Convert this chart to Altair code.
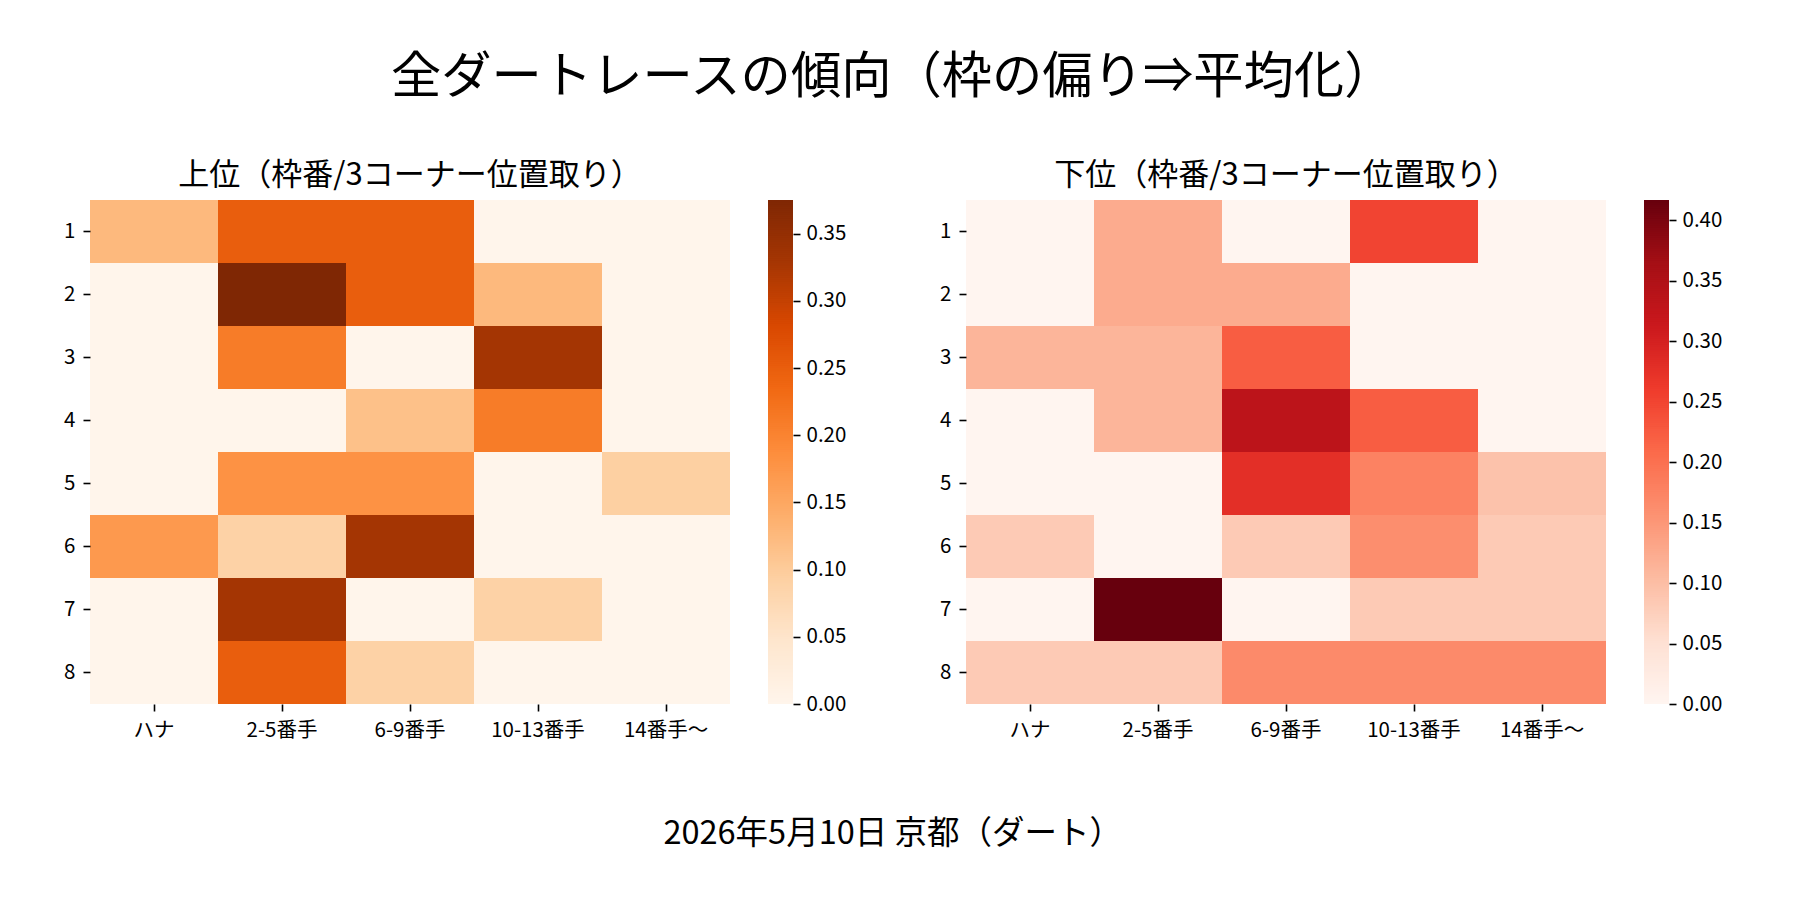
import altair as alt
import pandas as pd

FONT = "Noto Sans CJK JP"

rows = ["1", "2", "3", "4", "5", "6", "7", "8"]
cols = ["ハナ", "2-5番手", "6-9番手", "10-13番手", "14番手〜"]

upper = [
    [0.125, 0.25, 0.25, 0.0, 0.0],
    [0.0, 0.375, 0.25, 0.125, 0.0],
    [0.0, 0.21, 0.0, 0.33, 0.0],
    [0.0, 0.0, 0.115, 0.21, 0.0],
    [0.0, 0.18, 0.18, 0.0, 0.094],
    [0.17, 0.09, 0.33, 0.0, 0.0],
    [0.0, 0.33, 0.0, 0.09, 0.0],
    [0.0, 0.25, 0.09, 0.0, 0.0],
]
lower = [
    [0.0, 0.125, 0.0, 0.25, 0.0],
    [0.0, 0.125, 0.125, 0.0, 0.0],
    [0.112, 0.112, 0.223, 0.0, 0.0],
    [0.0, 0.112, 0.333, 0.223, 0.0],
    [0.0, 0.0, 0.278, 0.177, 0.094],
    [0.083, 0.0, 0.083, 0.161, 0.083],
    [0.0, 0.4167, 0.0, 0.083, 0.083],
    [0.083, 0.083, 0.167, 0.167, 0.167],
]

oranges = ["#fff5eb", "#fee6ce", "#fdd0a2", "#fdae6b", "#fd8d3c",
           "#f16913", "#d94801", "#a63603", "#7f2704"]
reds = ["#fff5f0", "#fee0d2", "#fcbba1", "#fc9272", "#fb6a4a",
        "#ef3b2c", "#cb181d", "#a50f15", "#67000d"]

title_main = "全ダートレースの傾向（枠の偏り⇒平均化）"
title_upper = "上位（枠番/3コーナー位置取り）"
title_lower = "下位（枠番/3コーナー位置取り）"
caption = "2026年5月10日 京都（ダート）"

W, H, CBW = 640, 504, 25


def long_df(mat):
    recs = []
    for i, r in enumerate(rows):
        for j, c in enumerate(cols):
            recs.append({"row": r, "col": c, "v": mat[i][j]})
    return pd.DataFrame(recs)


def color_scale(mat, colors):
    vmax = max(max(r) for r in mat)
    dom = [vmax * k / (len(colors) - 1) for k in range(len(colors))]
    return alt.Scale(domain=dom, range=colors, interpolate="rgb", clamp=True), vmax


def heat(mat, colors, title):
    sc, vmax = color_scale(mat, colors)
    return alt.Chart(long_df(mat)).mark_rect(strokeWidth=0).encode(
        x=alt.X("col:N", sort=cols, title=None,
                scale=alt.Scale(paddingInner=0, paddingOuter=0),
                axis=alt.Axis(labelAngle=0, labelPadding=9)),
        y=alt.Y("row:N", sort=rows, title=None,
                scale=alt.Scale(paddingInner=0, paddingOuter=0),
                axis=alt.Axis(labelPadding=8)),
        color=alt.Color("v:Q", scale=sc, legend=None),
    ).properties(width=W, height=H,
                 title=alt.Title(title, fontSize=31, font=FONT, fontWeight="normal",
                                 offset=8, anchor="middle", color="#000"))


def cbar(mat, colors):
    sc, vmax = color_scale(mat, colors)
    n = 240
    lv = [vmax * k / n for k in range(n)]
    df = pd.DataFrame({"lo": lv, "hi": [min(vmax, x + vmax / n * 1.6) for x in lv],
                       "v": [x + vmax / n / 2 for x in lv]})
    ticks = [round(0.05 * k, 2) for k in range(int(vmax / 0.05 + 1e-9) + 1)]
    return alt.Chart(df).mark_rect(strokeWidth=0).encode(
        x=alt.value(0), x2=alt.value(CBW),
        y=alt.Y("lo:Q", title=None,
                scale=alt.Scale(domain=[0, vmax], nice=False, zero=True),
                axis=alt.Axis(orient="right", values=ticks, format=".2f",
                              labelPadding=6)),
        y2="hi:Q",
        color=alt.Color("v:Q", scale=sc, legend=None),
    ).properties(width=CBW, height=H)


left = alt.hconcat(heat(upper, oranges, title_upper), cbar(upper, oranges),
                   spacing=38).resolve_scale(color="shared")
right = alt.hconcat(heat(lower, reds, title_lower), cbar(lower, reds),
                    spacing=38).resolve_scale(color="shared")

inner = alt.hconcat(left, right, spacing=93).resolve_scale(color="independent").properties(
    title=alt.Title(title_main, fontSize=50.3, font=FONT, fontWeight="normal",
                    anchor="middle", offset=57, color="#000"))

chart = alt.vconcat(inner).resolve_scale(color="independent").properties(
    title=alt.Title(caption, orient="bottom", fontSize=32.5, font=FONT,
                    fontWeight="normal", anchor="middle", offset=77, color="#000"),
    padding={"left": 55, "top": 44, "right": 10, "bottom": 10},
).configure_view(stroke=None).configure_axis(
    domain=False, grid=False, tickSize=7, tickWidth=1.6, tickColor="#000",
    labelFont=FONT, labelFontSize=20.5, labelColor="#000",
).configure_concat(spacing=0)

chart.save("out.html", embed_options={"renderer": "svg", "actions": False})
